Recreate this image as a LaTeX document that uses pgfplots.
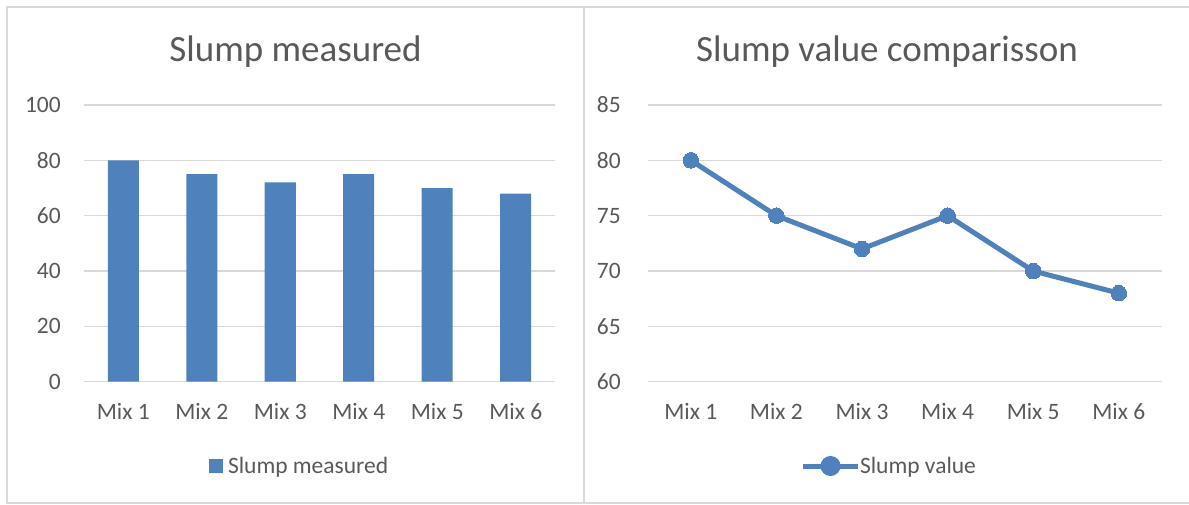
\documentclass[border=0pt]{standalone}
\usepackage{pgfplots}
\pgfplotsset{compat=1.18}
\usepackage{fontspec}
\setmainfont{Carlito}
\definecolor{exblue}{HTML}{4F81BD}
\definecolor{txtgray}{HTML}{595959}
\definecolor{gridgray}{HTML}{D9D9D9}
\begin{document}
\begin{tikzpicture}
\path[use as bounding box] (0pt,0pt) rectangle (1189pt,505pt);
% panel borders
\draw[gridgray, line width=1.5pt] (7pt,2pt) rectangle (584pt,498pt);
\draw[gridgray, line width=1.5pt] (584pt,498pt) -- (1189pt,498pt);
\draw[gridgray, line width=1.5pt] (584pt,2pt) -- (1189pt,2pt);
% titles
\node[anchor=base, text=txtgray, inner sep=0pt, font=\fontsize{37}{44}\selectfont] at (295.5pt,443pt) {Slump measured};
\node[anchor=base, text=txtgray, inner sep=0pt, font=\fontsize{37}{44}\selectfont] at (887pt,443pt) {Slump value comparisson};
\pgfplotsset{
  common/.style={
    scale only axis,
    height=276.7pt,
    xmin=-0.5, xmax=5.5,
    xtick={0,1,2,3,4,5},
    xticklabels={Mix 1,Mix 2,Mix 3,Mix 4,Mix 5,Mix 6},
    axis line style={draw=none},
    major tick length=0pt,
    ymajorgrids,
    major grid style={draw=gridgray, line width=1.3pt},
    tick label style={text=txtgray, font=\fontsize{23.5}{28}\selectfont, inner sep=0pt},
    /pgf/number format/assume math mode=true,
    xticklabel style={anchor=center, yshift=-30pt},
    legend style={draw=none, fill=none, inner sep=0pt, outer sep=0pt, anchor=west,
      font=\fontsize{23.5}{28}\selectfont, text=txtgray, column sep=5pt,
      nodes={inner sep=0pt}},
  }
}
\begin{axis}[common,
  at={(84pt,123.3pt)}, anchor=south west,
  width=471pt,
  ymin=0, ymax=100, ytick={0,20,40,60,80,100},
  yticklabel style={anchor=east, xshift=-23pt},
  legend style={at={(0.2654,-0.3047)}},
  legend image code/.code={\fill[exblue] (0pt,-7pt) rectangle (14pt,7pt);},
]
\addplot[ybar, bar width=31pt, fill=exblue, draw=none] coordinates {
(0,80) (1,75) (2,72) (3,75) (4,70) (5,68)};
\addlegendentry{Slump measured}
\end{axis}
\begin{axis}[common,
  at={(648pt,123.3pt)}, anchor=south west,
  width=513.6pt,
  ymin=60, ymax=85, ytick={60,65,70,75,80,85},
  yticklabel style={anchor=east, xshift=-27pt},
  legend style={at={(0.296,-0.3047)}, column sep=0pt},
  legend image code/.code={
    \draw[exblue, line width=5pt] (0pt,0pt) -- (55pt,0pt);
    \fill[exblue] (28pt,0pt) circle (7.5pt);},
]
\addplot[exblue, line width=5pt, mark=*, mark size=7.8pt, mark options={fill=exblue, draw=exblue, line width=0pt}] coordinates {
(0,80) (1,75) (2,72) (3,75) (4,70) (5,68)};
\addlegendentry{Slump value}
\end{axis}
\end{tikzpicture}
\end{document}
